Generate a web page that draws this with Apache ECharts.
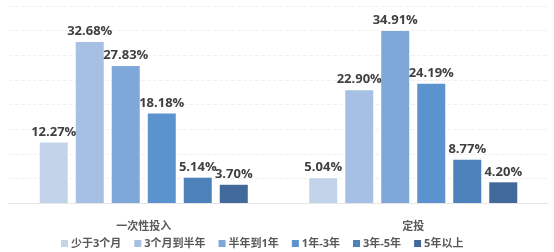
<!DOCTYPE html>
<html><head><meta charset="utf-8">
<script src="https://cdn.jsdelivr.net/npm/echarts@6/dist/echarts.min.js"></script>
<style>html,body{margin:0;padding:0;background:#fff}#c{width:554px;height:252px}</style>
</head><body><div id="c"></div>
<script>
const categories = ['一次性投入', '定投'];
const seriesNames = ['少于3个月', '3个月到半年', '半年到1年', '1年-3年', '3年-5年', '5年以上'];
const s1 = [12.27, 5.04];
const s2 = [32.68, 22.90];
const s3 = [27.83, 34.91];
const s4 = [18.18, 24.19];
const s5 = [5.14, 8.77];
const s6 = [3.70, 4.20];
const colors = ['#C3D4EA', '#A5C0E2', '#7EA7DA', '#5B93CF', '#4C81BA', '#41699A'];
const allData = [s1, s2, s3, s4, s5, s6];
const font = '"Open Sans", "Noto Sans CJK SC", sans-serif';
const chart = echarts.init(document.getElementById('c'));
chart.setOption({
  animation: false,
  grid: {left: 9, right: 6, top: 6, bottom: 49},
  legend: {
    left: 56, top: 233, itemWidth: 7, itemHeight: 7, itemGap: 13, icon: 'rect',
    textStyle: {fontFamily: font, fontSize: 11, fontWeight: 'bold', color: '#595959', padding: [0, 0, 0, -2]}
  },
  xAxis: {
    type: 'category', data: categories,
    axisLine: {lineStyle: {color: '#e6e6e6'}}, axisTick: {show: false},
    axisLabel: {fontFamily: font, fontSize: 11, fontWeight: 'bold', color: '#595959', margin: 18}
  },
  yAxis: {
    type: 'value', min: 0, max: 40, interval: 5,
    axisLabel: {show: false}, axisLine: {show: false}, axisTick: {show: false},
    splitLine: {lineStyle: {color: '#f0f0f0', type: 'dashed'}}
  },
  series: allData.map((d, i) => ({
    name: seriesNames[i], type: 'bar', data: d, barWidth: 28, barGap: '28.6%',
    itemStyle: {color: colors[i]},
    label: {show: true, position: 'top', distance: 4, formatter: p => p.value.toFixed(2) + '%',
      fontFamily: font, fontSize: 13, fontWeight: 'bold', color: '#404040'}
  }))
});
</script></body></html>
